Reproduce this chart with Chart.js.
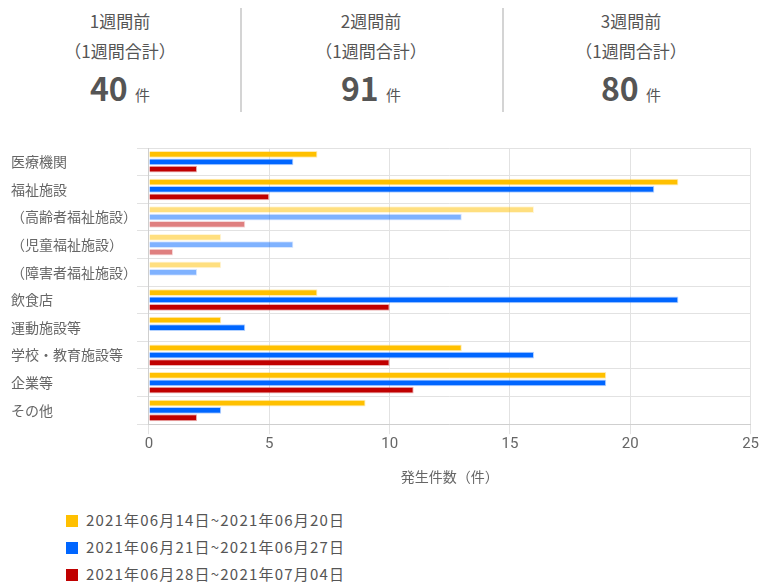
<!DOCTYPE html>
<html>
<head>
<meta charset="utf-8">
<script src="https://cdn.jsdelivr.net/npm/chart.js@4"></script>
<style>
  body { margin: 0; width: 760px; height: 582px; background: #fff; font-family: "Noto Sans CJK JP", "Noto Sans", sans-serif; color: #555; position: relative; overflow: hidden; }
  #summary { position: absolute; left: 0; top: 0; width: 760px; height: 120px; }
  .col { position: absolute; top: 6px; height: 104px; text-align: center; }
  .col .t { font-size: 17px; line-height: 30px; }
  .col .n { font-size: 32px; font-weight: bold; line-height: 42px; }
  .col .n span { font-size: 15px; font-weight: normal; }
  .sep { position: absolute; top: 8px; width: 2px; height: 104px; background: #d4d4d4; }
  #chartBox { position: absolute; left: 0; top: 130px; width: 760px; height: 370px; }
  #legend { position: absolute; left: 66px; top: 509px; font-size: 15px; letter-spacing: 1.2px; color: #555; }
  #legend div { height: 27px; line-height: 22px; }
  #legend i { display: inline-block; width: 12px; height: 12px; margin-right: 8px; vertical-align: -1px; }
</style>
</head>
<body>
<div id="summary"></div>
<div id="chartBox"><canvas id="myChartCanvas"></canvas></div>
<div id="legend"></div>
<script>
let summaryTitles = ['1週間前', '2週間前', '3週間前'];
let summaryTotals = [40, 91, 80];

let categories = ['医療機関', '福祉施設', '（高齢者福祉施設）', '（児童福祉施設）', '（障害者福祉施設）', '飲食店', '運動施設等', '学校・教育施設等', '企業等', 'その他'];
let subCategory = [false, false, true, true, true, false, false, false, false, false];

let seriesNames = ['2021年06月14日~2021年06月20日', '2021年06月21日~2021年06月27日', '2021年06月28日~2021年07月04日'];
let week1Values = [7, 22, 16, 3, 3, 7, 3, 13, 19, 9];
let week2Values = [6, 21, 13, 6, 2, 22, 4, 16, 19, 3];
let week3Values = [2, 5, 4, 1, 0, 10, 0, 10, 11, 2];

let baseColors = [[255, 192, 0], [0, 102, 255], [192, 0, 0]];

// header boxes
let colLeft = [0, 240, 502];
let colWidth = [240, 262, 258];
let summary = document.getElementById('summary');
for (let i = 0; i < summaryTitles.length; i++) {
    let col = document.createElement('div');
    col.className = 'col';
    col.style.left = colLeft[i] + 'px';
    col.style.width = colWidth[i] + 'px';
    col.innerHTML = '<div class="t">' + summaryTitles[i] + '</div>' +
        '<div class="t">（1週間合計）</div>' +
        '<div class="n">' + summaryTotals[i] + ' <span>件</span></div>';
    summary.appendChild(col);
    if (i > 0) {
        let sep = document.createElement('div');
        sep.className = 'sep';
        sep.style.left = colLeft[i] + 'px';
        summary.appendChild(sep);
    }
}

function colorList(rgb, alpha) {
    return subCategory.map(function (sub) {
        let a = sub ? alpha * 0.5 : alpha;
        return 'rgba(' + rgb[0] + ',' + rgb[1] + ',' + rgb[2] + ',' + a + ')';
    });
}

let allValues = [week1Values, week2Values, week3Values];
let datasets = allValues.map(function (vals, i) {
    return {
        label: seriesNames[i],
        data: vals,
        backgroundColor: colorList(baseColors[i], 1),
        borderColor: colorList(baseColors[i], 0.3),
        borderWidth: 1,
        borderSkipped: 'start',
        categoryPercentage: 0.8,
        barPercentage: 0.92
    };
});

let ctx = document.getElementById('myChartCanvas').getContext('2d');
let chart = new Chart(ctx, {
    type: 'bar',
    data: {
        labels: categories,
        datasets: datasets
    },
    options: {
        indexAxis: 'y',
        responsive: true,
        maintainAspectRatio: false,
        animation: false,
        layout: {
            padding: { left: 11, right: 0, top: 18, bottom: 15 }
        },
        plugins: {
            legend: { display: false },
            tooltip: { enabled: false }
        },
        scales: {
            x: {
                min: 0,
                max: 25,
                ticks: {
                    stepSize: 5,
                    color: '#666',
                    font: { family: 'Roboto, "Noto Sans", sans-serif', size: 15 },
                    padding: 1
                },
                grid: { color: '#e2e2e2', tickLength: 10 },
                border: { color: '#cfcfcf' },
                title: {
                    display: true,
                    text: '発生件数（件）',
                    color: '#666',
                    font: { family: '"Noto Sans CJK JP", sans-serif', size: 14 },
                    padding: { top: 14, bottom: 0 }
                }
            },
            y: {
                ticks: {
                    crossAlign: 'far',
                    color: '#666',
                    font: { family: '"Noto Sans CJK JP", sans-serif', size: 14 },
                    padding: 0,
                    autoSkip: false
                },
                grid: { color: '#e2e2e2', tickLength: 12 },
                border: { color: '#cfcfcf' }
            }
        }
    }
});

// legend below the chart, one item per row
let legend = document.getElementById('legend');
chart.data.datasets.forEach(function (ds, i) {
    let row = document.createElement('div');
    let c = baseColors[i];
    row.innerHTML = '<i style="background:rgb(' + c.join(',') + ')"></i>' + ds.label;
    legend.appendChild(row);
});
</script>
</body>
</html>
